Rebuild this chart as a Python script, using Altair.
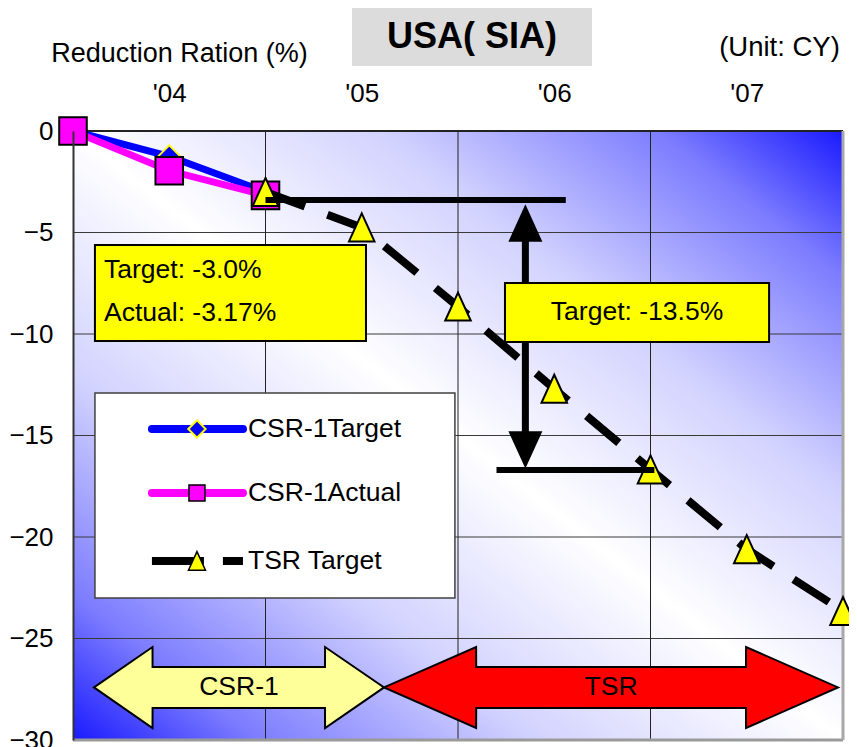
import altair as alt
import pandas as pd

# ---------------- values ----------------
CSR1_X = [0.0, 0.5, 1.0]
CSR1_TARGET = [0.0, -1.25, -3.0]
CSR1_ACTUAL = [0.0, -1.96, -3.17]
TSR_X = [1.0, 1.5, 2.0, 2.5, 3.0, 3.5, 4.0]
TSR_TARGET = [-3.0, -4.75, -8.65, -12.7, -16.67, -20.6, -23.65]
SERIES = ["CSR-1Target", "CSR-1Actual", "TSR Target"]

X_LABEL_POS = [0.5, 1.5, 2.5, 3.5]
X_LABELS = ["'04", "'05", "'06", "'07"]
Y_TICKS = [0, -5, -10, -15, -20, -25, -30]
X_GRID = [1, 2, 3]
Y_GRID = [-5, -10, -15, -20, -25]

TITLE = "USA( SIA)"
Y_TITLE = "Reduction Ration (%)"
UNIT = "(Unit: CY)"
BOX1_LINES = ["Target: -3.0%", "Actual: -3.17%"]
BOX2_LINE = "Target: -13.5%"
PHASES = ["CSR-1", "TSR"]

# annotation geometry, in chart units (years from 2004, %)
BOX1 = [0.114, 1.522, -5.62, -10.34]
BOX1_TEXT_X = 0.161
BOX1_TEXT_Y = [-6.85, -8.97]
BOX2 = [2.244, 3.616, -7.49, -10.39]
BOX2_TEXT = [2.93, -8.92]
LEGEND_BOX = [0.114, 1.984, -12.91, -23.0]
LEG_LINE_X = [0.41, 0.883]
LEG_MARK_X = 0.644
LEG_TEXT_X = 0.909
LEG_ROW_Y = [-14.68, -17.83, -21.18]
REF_TOP = [1.0, 2.56, -3.4]
REF_BOTTOM = [2.2, 3.02, -16.7]
ARROW_X = 2.35
ARROW_SHAFT = [-4.3, -15.9]
ARROW_HEAD_Y = [-4.53, -15.71]
PHASE_X = [[0.109, 0.413, 0.4135, 1.309, 1.3095, 1.616],
           [1.616, 2.094, 2.0945, 3.496, 3.4965, 3.974]]
PHASE_TOP = [-27.41, -25.42, -26.4, -26.4, -25.42, -27.41]
PHASE_BOT = [-27.41, -29.41, -28.42, -28.42, -29.41, -27.41]
PHASE_TEXT_X = [0.862, 2.795]
PHASE_TEXT_Y = -27.41
PHASE_FILL = ["#FFFF99", "#FF0000"]

# ---------------- styling ----------------
FONT = "Liberation Sans"
FS = 26.5
TRI_UP = "M0,-1.1L1,1.1L-1,1.1Z"
TRI_DOWN = "M0,1.1L1,-1.1L-1,-1.1Z"
XS = alt.Scale(domain=[0, 4], nice=False, zero=False)
YS = alt.Scale(domain=[-30, 0], nice=False, zero=False)

label_expr = "".join(
    f'datum.value == {p} ? "{l}" : ' for p, l in zip(X_LABEL_POS, X_LABELS)
) + '""'

XAX = alt.Axis(
    orient="top", values=X_LABEL_POS, labelExpr=label_expr, grid=False,
    ticks=False, tickSize=0, domain=False, labelFont=FONT, labelFontSize=26,
    labelColor="black", labelPadding=25, labelFlush=False, labelOverlap=False,
    title=UNIT, titleFont=FONT, titleFontSize=27.5, titleFontWeight="normal",
    titleColor="black", titleX=706, titleY=-84, titleAngle=0,
    titleAlign="center", titleBaseline="middle", zindex=1)
YAX = alt.Axis(
    values=Y_TICKS, grid=False, ticks=False, tickSize=0, domain=True,
    domainColor="#333333", domainWidth=2, labelFont=FONT, labelFontSize=26,
    labelColor="black", labelPadding=20, labelFlush=False, labelOverlap=False,
    title=Y_TITLE, titleFont=FONT, titleFontSize=27, titleFontWeight="normal",
    titleColor="black", titleX=106, titleY=-78, titleAngle=0,
    titleAlign="center", titleBaseline="middle", zindex=1)


def X(f):
    return alt.X(f"{f}:Q", scale=XS, axis=XAX)


def Y(f):
    return alt.Y(f"{f}:Q", scale=YS, axis=YAX)


one = pd.DataFrame({"a": [0]})

grad = alt.LinearGradient(
    gradient="linear",
    stops=[
        alt.GradientStop(color="#1a1aff", offset=0.0),
        alt.GradientStop(color="#7c7cff", offset=0.12),
        alt.GradientStop(color="#d2d2ff", offset=0.3),
        alt.GradientStop(color="#ffffff", offset=0.5),
        alt.GradientStop(color="#d2d2ff", offset=0.7),
        alt.GradientStop(color="#7c7cff", offset=0.88),
        alt.GradientStop(color="#1a1aff", offset=1.0),
    ],
    x1=1, y1=0, x2=0, y2=1,
)

bg = alt.Chart(pd.DataFrame({"x": [0], "x2": [4], "y": [0], "y2": [-30]})).mark_rect(
    fill=grad
).encode(x=X("x"), x2="x2:Q", y=Y("y"), y2="y2:Q")

hgrid = alt.Chart(pd.DataFrame({"y": Y_GRID})).mark_rule(
    color="#3a3a3a", strokeWidth=1).encode(y=Y("y"))
vgrid = alt.Chart(pd.DataFrame({"x": X_GRID})).mark_rule(
    color="#222222", strokeWidth=1).encode(x=X("x"))
top_border = alt.Chart(pd.DataFrame({"y": [0]})).mark_rule(
    color="#222222", strokeWidth=2).encode(y=Y("y"))
bottom_border = alt.Chart(pd.DataFrame({"y": [-30]})).mark_rule(
    color="#9a9a9a", strokeWidth=3).encode(y=Y("y"))
right_border = alt.Chart(pd.DataFrame({"x": [4]})).mark_rule(
    color="#a8a8a8", strokeWidth=3).encode(x=X("x"))

# phase double arrows at the bottom
phase_layers = []
for name, xs, fill, tx in zip(PHASES, PHASE_X, PHASE_FILL, PHASE_TEXT_X):
    df = pd.DataFrame({"x": xs, "top": PHASE_TOP, "bot": PHASE_BOT})
    phase_layers.append(
        alt.Chart(df).mark_area(fill=fill, stroke="black", strokeWidth=2,
                                opacity=1, strokeJoin="miter").encode(
            x=X("x"), y=Y("top"), y2="bot:Q"))
    phase_layers.append(
        alt.Chart(pd.DataFrame({"x": [tx], "y": [PHASE_TEXT_Y], "t": [name]}))
        .mark_text(font=FONT, fontSize=FS, color="black", align="center",
                   baseline="middle")
        .encode(x=X("x"), y=Y("y"), text="t:N"))

# data series
csr = pd.DataFrame({"x": CSR1_X, "target": CSR1_TARGET, "actual": CSR1_ACTUAL})
tsr = pd.DataFrame({"x": TSR_X, "v": TSR_TARGET})
blue_line = alt.Chart(csr).mark_line(color="#0000FF", strokeWidth=7).encode(
    x=X("x"), y=Y("target"))
mag_line = alt.Chart(csr).mark_line(color="#FF00FF", strokeWidth=7).encode(
    x=X("x"), y=Y("actual"))
diamonds = alt.Chart(csr).mark_point(
    shape="diamond", filled=True, fill="#0000FF", stroke="#FFFF00",
    strokeWidth=2, size=484, opacity=1).encode(x=X("x"), y=Y("target"))
squares = alt.Chart(csr).mark_point(
    shape="square", filled=True, fill="#FF00FF", stroke="black",
    strokeWidth=2, size=760, opacity=1).encode(x=X("x"), y=Y("actual"))
tsr_line = alt.Chart(tsr).mark_line(
    color="black", strokeWidth=8, strokeDash=[42, 24], strokeCap="butt").encode(
    x=X("x"), y=Y("v"))
triangles = alt.Chart(tsr).mark_point(
    shape=TRI_UP, filled=True, fill="#FFFF00", stroke="black",
    strokeWidth=2, size=650, opacity=1).encode(x=X("x"), y=Y("v"))

# reference lines and the -13.5% arrow
ref_df = pd.DataFrame({"x": [REF_TOP[0], REF_BOTTOM[0]],
                       "x2": [REF_TOP[1], REF_BOTTOM[1]],
                       "y": [REF_TOP[2], REF_BOTTOM[2]]})
ref_lines = alt.Chart(ref_df).mark_rule(color="black", strokeWidth=6).encode(
    x=X("x"), x2="x2:Q", y=Y("y"))
shaft = alt.Chart(pd.DataFrame({"x": [ARROW_X], "y": [ARROW_SHAFT[0]],
                                "y2": [ARROW_SHAFT[1]]})).mark_rule(
    color="black", strokeWidth=7).encode(x=X("x"), y=Y("y"), y2="y2:Q")
head_up = alt.Chart(pd.DataFrame({"x": [ARROW_X], "y": [ARROW_HEAD_Y[0]]})).mark_point(
    shape=TRI_UP, filled=True, fill="black", strokeWidth=0, size=1156, opacity=1
).encode(x=X("x"), y=Y("y"))
head_down = alt.Chart(pd.DataFrame({"x": [ARROW_X], "y": [ARROW_HEAD_Y[1]]})).mark_point(
    shape=TRI_DOWN, filled=True, fill="black", strokeWidth=0, size=1156, opacity=1
).encode(x=X("x"), y=Y("y"))


# yellow callout boxes
def box(b, fill, stroke, sw):
    return alt.Chart(pd.DataFrame({"x": [b[0]], "x2": [b[1]], "y": [b[2]],
                                   "y2": [b[3]]})).mark_rect(
        fill=fill, stroke=stroke, strokeWidth=sw, opacity=1).encode(
        x=X("x"), x2="x2:Q", y=Y("y"), y2="y2:Q")


box1 = box(BOX1, "#FFFF00", "black", 2)
box1_text = alt.Chart(pd.DataFrame({"x": [BOX1_TEXT_X] * 2, "y": BOX1_TEXT_Y,
                                    "t": BOX1_LINES})).mark_text(
    font=FONT, fontSize=FS, color="black", align="left", baseline="middle").encode(
    x=X("x"), y=Y("y"), text="t:N")
box2 = box(BOX2, "#FFFF00", "black", 2)
box2_text = alt.Chart(pd.DataFrame({"x": [BOX2_TEXT[0]], "y": [BOX2_TEXT[1]],
                                    "t": [BOX2_LINE]})).mark_text(
    font=FONT, fontSize=FS, color="black", align="center", baseline="middle").encode(
    x=X("x"), y=Y("y"), text="t:N")

# hand-built legend box
leg_box = box(LEGEND_BOX, "white", "#404040", 1.5)


def leg_line(row, color, cap, dash=None):
    kw = dict(color=color, strokeWidth=8, strokeCap=cap)
    if dash:
        kw["strokeDash"] = dash
    return alt.Chart(pd.DataFrame({"x": [LEG_LINE_X[0]], "x2": [LEG_LINE_X[1]],
                                   "y": [LEG_ROW_Y[row]]})).mark_rule(**kw).encode(
        x=X("x"), x2="x2:Q", y=Y("y"))


def leg_mark(row, **kw):
    return alt.Chart(pd.DataFrame({"x": [LEG_MARK_X], "y": [LEG_ROW_Y[row]]})).mark_point(
        filled=True, opacity=1, **kw).encode(x=X("x"), y=Y("y"))


leg_layers = [
    leg_box,
    leg_line(0, "#0000FF", "round"),
    leg_line(1, "#FF00FF", "round"),
    leg_line(2, "black", "butt", [52, 19]),
    leg_mark(0, shape="diamond", fill="#0000FF", stroke="#FFFF00", strokeWidth=2, size=300),
    leg_mark(1, shape="square", fill="#FF00FF", stroke="black", strokeWidth=1.5, size=256),
    leg_mark(2, shape=TRI_UP, fill="#FFFF00", stroke="black", strokeWidth=1.5, size=289),
    alt.Chart(pd.DataFrame({"x": [LEG_TEXT_X] * 3, "y": LEG_ROW_Y, "t": SERIES}))
    .mark_text(font=FONT, fontSize=FS, color="black", align="left", baseline="middle")
    .encode(x=X("x"), y=Y("y"), text="t:N"),
]

# title box above the plot
title_box = alt.Chart(one).mark_rect(fill="#DCDCDC").encode(
    x=alt.value(279), x2=alt.value(519), y=alt.value(-123), y2=alt.value(-65))
title_text = alt.Chart(one).mark_text(
    text=TITLE, font=FONT, fontSize=36, fontWeight="bold", color="black",
    align="center", baseline="middle").encode(x=alt.value(399), y=alt.value(-94))

chart = alt.layer(
    bg, hgrid, vgrid, top_border, bottom_border, right_border,
    *phase_layers,
    blue_line, mag_line, diamonds, squares, tsr_line, triangles,
    ref_lines, shaft, head_up, head_down,
    box1, box1_text, box2, box2_text,
    *leg_layers,
    title_box, title_text,
).properties(
    width=770, height=609,
    autosize=alt.AutoSizeParams(type="none"),
    padding={"left": 65, "top": 123, "right": 6, "bottom": 10},
).configure_view(strokeWidth=0)

chart.save("out.html", embed_options={"renderer": "svg", "actions": False})
